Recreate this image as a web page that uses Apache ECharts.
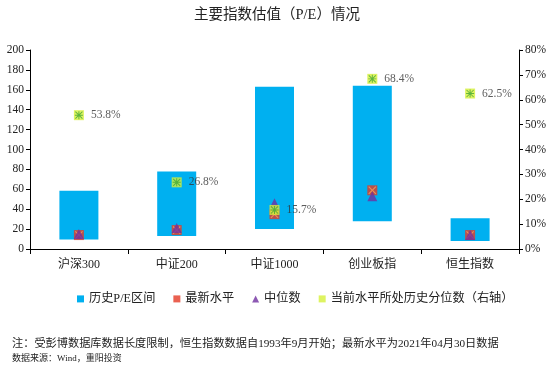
<!DOCTYPE html>
<html><head><meta charset="utf-8">
<script src="https://cdn.jsdelivr.net/npm/echarts@6/dist/echarts.min.js"></script>
<style>html,body{margin:0;padding:0;background:#fff}#c{width:554px;height:368px}</style>
</head><body><div id="c"></div>
<script>
var categories = ['沪深300','中证200','中证1000','创业板指','恒生指数'];
var peMin = [9.5, 13, 20, 28, 8];
var peMax = [58.5, 78, 163, 164, 31];
var latest = [14, 19, 35, 59, 14];
var median = [15, 21, 46, 53, 14];
var percentile = [53.8, 26.8, 15.7, 68.4, 62.5];

var range = peMax.map(function(v,i){return +(v-peMin[i]).toFixed(2);});
var pctData = percentile.map(function(v){return v/100;});
var FF = 'Liberation Serif, Noto Sans CJK SC, serif';
var X_PATH = 'path://M0,1L1,0L5,4L9,0L10,1L6,5L10,9L9,10L5,6L1,10L0,9L4,5Z';
var AST_PATH = 'path://M4.4,0H5.6V10H4.4Z M0,4.4H10V5.6H0Z M1,0.2L9.8,9L9,9.8L0.2,1Z M9,0.2L9.8,1L1,9.8L0.2,9Z';
var chart = echarts.init(document.getElementById('c'));
chart.setOption({
  animation:false,
  backgroundColor:'#fff',
  textStyle:{fontFamily:FF},
  title:{text:'主要指数估值（P/E）情况',left:'center',top:3,textStyle:{fontSize:14.5,fontWeight:'normal',color:'#222',fontFamily:FF}},
  graphic:[
    {type:'text',left:12,top:338,style:{text:'注：受彭博数据库数据长度限制，恒生指数数据自1993年9月开始；最新水平为2021年04月30日数据',fontSize:11.2,fill:'#222',fontFamily:FF}},
    {type:'text',left:12,top:354,style:{text:'数据来源：Wind，重阳投资',fontSize:9,fill:'#222',fontFamily:FF}}
  ],
  legend:{bottom:58,left:72,itemWidth:7,itemHeight:7,itemGap:18,textStyle:{fontSize:12.2,color:'#222',fontFamily:FF},
    data:[{name:'历史P/E区间',icon:'rect'},{name:'最新水平',icon:'rect'},{name:'中位数',icon:'triangle'},{name:'当前水平所处历史分位数（右轴）',icon:'rect'}]},
  grid:{left:30,right:35,top:50,bottom:119},
  xAxis:{type:'category',data:categories,
    axisLine:{lineStyle:{color:'#000'}},axisTick:{show:true,length:5,lineStyle:{color:'#000'}},
    axisLabel:{fontSize:12,color:'#222',margin:10,fontFamily:FF}},
  yAxis:[
    {type:'value',min:0,max:200,interval:20,splitLine:{show:false},
     axisLine:{show:true,lineStyle:{color:'#000'}},axisTick:{show:true,length:4,lineStyle:{color:'#000'}},
     axisLabel:{fontSize:11.5,color:'#222',margin:6,fontFamily:FF}},
    {type:'value',min:0,max:0.8,interval:0.1,splitLine:{show:false},position:'right',
     axisLine:{show:true,lineStyle:{color:'#000'}},axisTick:{show:true,length:4,lineStyle:{color:'#000'}},
     axisLabel:{fontSize:11.5,color:'#222',margin:6,fontFamily:FF,formatter:function(v){return Math.round(v*100)+'%';}}}
  ],
  series:[
    {name:'base',type:'bar',stack:'r',data:peMin,barWidth:39,itemStyle:{color:'transparent'},silent:true,legendHoverLink:false},
    {name:'历史P/E区间',type:'bar',stack:'r',data:range,barWidth:39,itemStyle:{color:'#00B0F0'}},
    {name:'最新水平',type:'scatter',data:latest,symbol:'rect',symbolSize:10,itemStyle:{color:'#E53A26'},z:3},
    {name:'latestX',type:'scatter',data:latest,symbol:X_PATH,symbolSize:8,itemStyle:{color:'#F5A05A'},z:3,silent:true},
    {name:'中位数',type:'scatter',data:median,symbol:'triangle',symbolSize:10,itemStyle:{color:'#7030A0'},z:4},
    {name:'当前水平所处历史分位数（右轴）',type:'scatter',yAxisIndex:1,data:pctData,symbol:'rect',symbolSize:10,
     itemStyle:{color:'#D6F03A'},z:5,
     label:{show:true,position:'right',distance:7,fontSize:11.5,color:'#333',fontFamily:FF,
       formatter:function(p){return (p.value*100).toFixed(1)+'%';}}},
    {name:'pctAst',type:'scatter',yAxisIndex:1,data:pctData,symbol:AST_PATH,symbolSize:8,itemStyle:{color:'#3FA535'},z:6,silent:true}
  ]
});
</script></body></html>
